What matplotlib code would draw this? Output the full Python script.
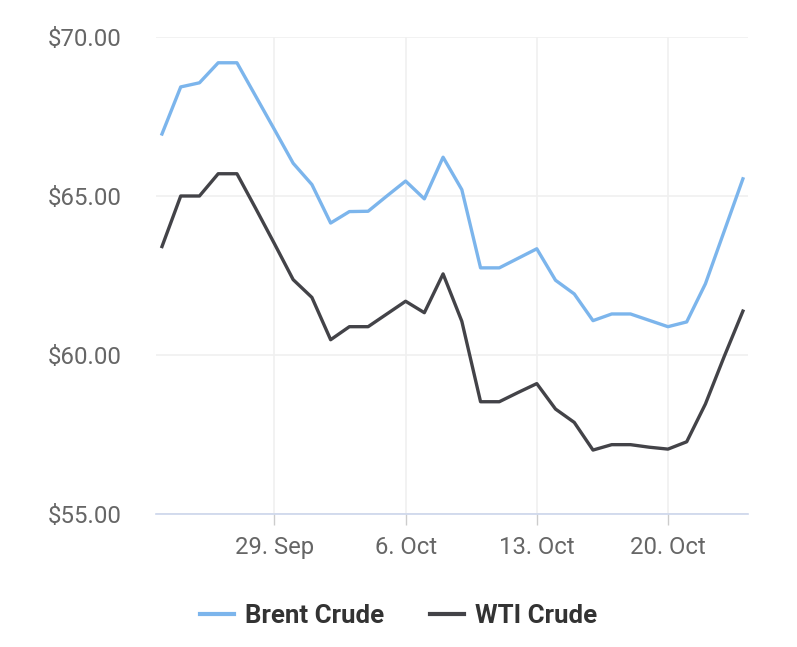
import numpy as np
import matplotlib
matplotlib.use('Agg')
import matplotlib.pyplot as plt
import matplotlib.dates as mdates
import pandas as pd

plt.rcParams['font.family'] = ['Roboto', 'DejaVu Sans']

# daily prices, 23 Sep - 24 Oct
dates = pd.date_range('2025-09-23', periods=32, freq='D')
brent = [66.95, 68.43, 68.56, 69.19, 69.19, 68.14, 67.09, 66.03, 65.36, 64.15,
         64.51, 64.52, 65.00, 65.47, 64.91, 66.22, 65.20, 62.74, 62.74, 63.04,
         63.34, 62.35, 61.92, 61.08, 61.29, 61.29, 61.09, 60.89, 61.04, 62.24,
         63.89, 65.54]
wti = [63.41, 65.00, 65.00, 65.70, 65.70, 64.61, 63.50, 62.37, 61.81, 60.48,
       60.89, 60.89, 61.29, 61.69, 61.33, 62.55, 61.06, 58.53, 58.53, 58.82,
       59.10, 58.30, 57.88, 57.01, 57.18, 57.18, 57.10, 57.04, 57.27, 58.46,
       59.95, 61.38]
tick_dates = pd.to_datetime(['2025-09-29', '2025-10-06', '2025-10-13', '2025-10-20'])
tick_labels = ['29. Sep', '6. Oct', '13. Oct', '20. Oct']
y_ticks = [55, 60, 65, 70]

fig = plt.figure(figsize=(7.97, 6.47), dpi=100)
ax = fig.add_axes([0.1957, 0.2056, 0.7428, 0.7372])

ax.plot(dates, brent, color='#7cb5ec', lw=2.4, label='Brent Crude', solid_joinstyle='round')
ax.plot(dates, wti, color='#434348', lw=2.4, label='WTI Crude', solid_joinstyle='round')

ax.set_ylim(55, 70)
ax.set_xlim(dates[0] - pd.Timedelta(hours=7.7), dates[-1] + pd.Timedelta(hours=6.5))
ax.set_yticks(y_ticks)
ax.set_yticklabels(['$%.2f' % v for v in y_ticks])
ax.set_xticks(tick_dates)
ax.set_xticklabels(tick_labels)

ax.grid(True, color='#f0f0f0', lw=1.2)
ax.set_axisbelow(True)
for s in ['top', 'right', 'left']:
    ax.spines[s].set_visible(False)
ax.spines['bottom'].set_color('#ccd6eb')
ax.spines['bottom'].set_linewidth(1.2)
ax.tick_params(axis='y', length=0, pad=24.5, labelsize=17.3, labelcolor='#666666')
ax.tick_params(axis='x', length=8, width=1, color='#cccccc', pad=8,
               labelsize=17.2, labelcolor='#666666')

leg = fig.legend(loc='center', bbox_to_anchor=(0.5, 0.048), ncol=2, frameon=False,
                 handlelength=1.34, handletextpad=0.42, columnspacing=1.76,
                 prop={'weight': 'bold', 'size': 18.6})
for t in leg.get_texts():
    t.set_color('#333333')
for h in leg.get_lines():
    h.set_linewidth(3)

plt.savefig('out.png', dpi=100)
